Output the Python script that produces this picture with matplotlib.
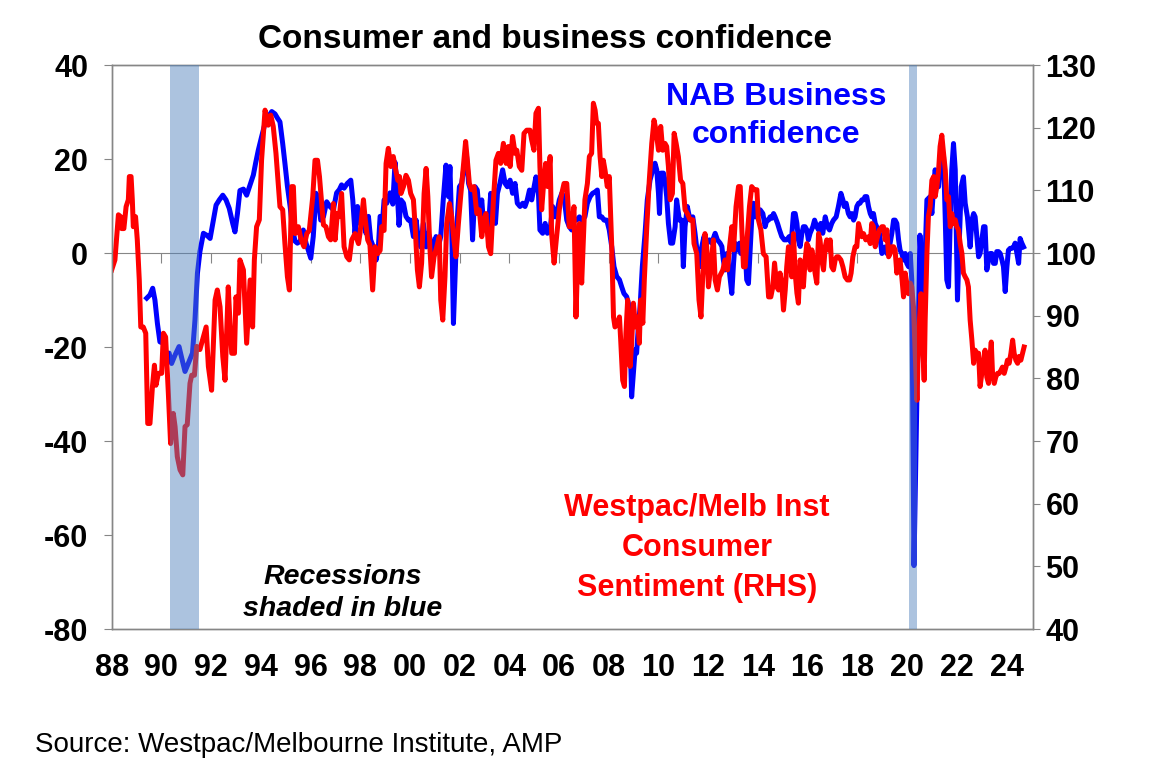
import matplotlib
matplotlib.use("Agg")
import matplotlib.pyplot as plt

plt.rcParams['font.family'] = ['Liberation Sans', 'DejaVu Sans']
plt.rcParams['axes.unicode_minus'] = False

# Westpac/Melbourne Institute consumer sentiment index (RHS)
wbc_year = [
    1988.00, 1988.13, 1988.27, 1988.36, 1988.40, 1988.49, 1988.58, 1988.67, 1988.71, 1988.78,
    1988.83, 1988.87, 1988.96, 1989.03, 1989.11, 1989.17, 1989.27, 1989.37, 1989.45, 1989.54,
    1989.64, 1989.72, 1989.78, 1989.88, 1990.01, 1990.08, 1990.17, 1990.28, 1990.37, 1990.48,
    1990.55, 1990.64, 1990.75, 1990.86, 1990.95, 1991.04, 1991.15, 1991.22, 1991.33, 1991.42,
    1991.55, 1991.62, 1991.80, 1991.89, 1992.02, 1992.16, 1992.25, 1992.36, 1992.47, 1992.56,
    1992.69, 1992.76, 1992.83, 1992.94, 1993.00, 1993.10, 1993.16, 1993.30, 1993.43, 1993.57,
    1993.67, 1993.74, 1993.83, 1993.94, 1994.03, 1994.17, 1994.30, 1994.40, 1994.50, 1994.61,
    1994.77, 1994.88, 1994.97, 1995.07, 1995.15, 1995.24, 1995.31, 1995.38, 1995.51, 1995.62,
    1995.74, 1995.85, 1995.95, 1996.09, 1996.18, 1996.28, 1996.36, 1996.45, 1996.52, 1996.62,
    1996.72, 1996.81, 1996.92, 1996.99, 1997.08, 1997.16, 1997.25, 1997.35, 1997.46, 1997.56,
    1997.66, 1997.79, 1997.93, 1997.99, 1998.13, 1998.19, 1998.30, 1998.39, 1998.50, 1998.60,
    1998.70, 1998.80, 1998.86, 1998.96, 1999.04, 1999.13, 1999.23, 1999.33, 1999.43, 1999.51,
    1999.58, 1999.64, 1999.74, 1999.84, 1999.94, 2000.03, 2000.14, 2000.21, 2000.30, 2000.38,
    2000.47, 2000.57, 2000.65, 2000.72, 2000.80, 2000.87, 2000.97, 2001.08, 2001.18, 2001.24,
    2001.32, 2001.41, 2001.48, 2001.59, 2001.68, 2001.77, 2001.85, 2001.95, 2002.04, 2002.15,
    2002.24, 2002.31, 2002.39, 2002.48, 2002.58, 2002.69, 2002.79, 2002.89, 2002.98, 2003.06,
    2003.16, 2003.25, 2003.36, 2003.46, 2003.56, 2003.65, 2003.76, 2003.87, 2003.96, 2004.03,
    2004.13, 2004.23, 2004.30, 2004.40, 2004.50, 2004.59, 2004.70, 2004.83, 2004.90, 2004.99,
    2005.07, 2005.17, 2005.23, 2005.30, 2005.37, 2005.46, 2005.54, 2005.64, 2005.70, 2005.80,
    2005.90, 2006.01, 2006.11, 2006.20, 2006.31, 2006.41, 2006.51, 2006.60, 2006.68, 2006.74,
    2006.82, 2006.91, 2006.98, 2007.04, 2007.14, 2007.22, 2007.31, 2007.38, 2007.45, 2007.51,
    2007.58, 2007.65, 2007.72, 2007.78, 2007.85, 2007.94, 2008.02, 2008.12, 2008.19, 2008.25,
    2008.35, 2008.43, 2008.48, 2008.56, 2008.63, 2008.69, 2008.76, 2008.86, 2008.92, 2008.99,
    2009.08, 2009.15, 2009.23, 2009.28, 2009.37, 2009.43, 2009.53, 2009.63, 2009.73, 2009.82,
    2009.90, 2010.00, 2010.09, 2010.17, 2010.26, 2010.33, 2010.40, 2010.47, 2010.56, 2010.63,
    2010.71, 2010.80, 2010.89, 2010.98, 2011.07, 2011.16, 2011.27, 2011.38, 2011.43, 2011.54,
    2011.63, 2011.71, 2011.78, 2011.87, 2011.94, 2012.01, 2012.10, 2012.21, 2012.28, 2012.37,
    2012.45, 2012.59, 2012.68, 2012.78, 2012.86, 2012.95, 2013.02, 2013.12, 2013.22, 2013.29,
    2013.35, 2013.42, 2013.49, 2013.58, 2013.66, 2013.75, 2013.85, 2013.96, 2014.02, 2014.12,
    2014.22, 2014.33, 2014.43, 2014.52, 2014.60, 2014.67, 2014.76, 2014.83, 2014.89, 2014.96,
    2015.03, 2015.10, 2015.16, 2015.23, 2015.30, 2015.36, 2015.43, 2015.50, 2015.57, 2015.63,
    2015.70, 2015.77, 2015.83, 2015.90, 2015.97, 2016.03, 2016.10, 2016.17, 2016.24, 2016.30,
    2016.37, 2016.44, 2016.50, 2016.57, 2016.64, 2016.71, 2016.77, 2016.84, 2016.91, 2016.97,
    2017.04, 2017.11, 2017.17, 2017.24, 2017.34, 2017.42, 2017.51, 2017.60, 2017.69, 2017.75,
    2017.82, 2017.91, 2017.98, 2018.05, 2018.11, 2018.18, 2018.25, 2018.34, 2018.45, 2018.52,
    2018.58, 2018.65, 2018.72, 2018.78, 2018.89, 2018.99, 2019.05, 2019.12, 2019.19, 2019.26,
    2019.32, 2019.39, 2019.46, 2019.52, 2019.59, 2019.66, 2019.72, 2019.79, 2019.86, 2019.93,
    2019.99, 2020.06, 2020.13, 2020.19, 2020.26, 2020.33, 2020.40, 2020.44, 2020.50, 2020.56,
    2020.62, 2020.69, 2020.73, 2020.80, 2020.86, 2020.93, 2021.00, 2021.07, 2021.13, 2021.20,
    2021.27, 2021.33, 2021.40, 2021.47, 2021.54, 2021.60, 2021.67, 2021.74, 2021.80, 2021.87,
    2021.94, 2022.00, 2022.07, 2022.14, 2022.21, 2022.27, 2022.34, 2022.41, 2022.47, 2022.54,
    2022.61, 2022.68, 2022.74, 2022.81, 2022.88, 2022.94, 2023.01, 2023.08, 2023.14, 2023.21,
    2023.28, 2023.35, 2023.39, 2023.44, 2023.51, 2023.57, 2023.64, 2023.71, 2023.78, 2023.84,
    2023.91, 2023.98, 2024.04, 2024.11, 2024.18, 2024.25, 2024.31, 2024.38, 2024.45, 2024.51,
    2024.58, 2024.65, 2024.71,
]
wbc_index = [
    97.3, 98.9, 106.1, 105.8, 103.9, 103.9, 107.4, 108.5, 112.2, 112.2,
    108.5, 104.2, 105.8, 102.1, 95.7, 88.2, 88.2, 87.2, 72.8, 72.8,
    78.7, 82.1, 78.9, 80.8, 80.8, 87.2, 86.6, 77.6, 69.6, 74.4,
    72.3, 67.5, 65.4, 64.6, 72.3, 72.6, 79.2, 80.5, 80.5, 85.1,
    84.6, 85.6, 88.2, 81.9, 78.1, 92.5, 94.1, 91.4, 83.5, 79.7,
    94.6, 88.8, 84.0, 84.0, 93.0, 90.4, 98.9, 97.3, 85.6, 95.7,
    88.2, 98.9, 104.2, 105.3, 114.8, 122.8, 120.4, 122.0, 120.2, 115.9,
    107.4, 106.9, 101.5, 96.2, 94.1, 110.6, 110.6, 103.1, 104.2, 102.1,
    101.0, 103.1, 103.6, 109.0, 114.8, 114.8, 112.2, 107.9, 104.5, 104.2,
    102.6, 102.1, 107.9, 102.1, 106.3, 105.8, 109.5, 101.0, 99.4, 98.9,
    102.1, 103.1, 101.5, 103.1, 108.5, 105.8, 102.1, 101.3, 94.1, 101.0,
    99.9, 100.4, 104.2, 103.6, 114.3, 116.7, 113.8, 115.4, 113.2, 111.6,
    112.2, 109.5, 110.6, 112.4, 111.6, 109.5, 108.5, 104.2, 97.3, 94.6,
    98.4, 109.5, 113.5, 109.0, 101.0, 96.2, 99.4, 101.0, 102.6, 92.5,
    89.3, 96.2, 104.7, 107.9, 105.8, 102.1, 99.4, 104.7, 109.0, 113.8,
    117.8, 114.8, 111.1, 110.1, 110.6, 106.3, 106.9, 102.6, 105.3, 106.3,
    101.0, 99.9, 108.5, 114.8, 115.9, 114.3, 117.5, 114.3, 117.0, 113.8,
    118.6, 115.9, 116.4, 113.8, 113.2, 119.1, 119.6, 119.6, 118.0, 116.4,
    122.3, 123.1, 113.8, 106.9, 110.6, 114.3, 110.6, 115.4, 103.1, 98.4,
    102.6, 106.9, 109.5, 111.1, 111.1, 104.2, 104.2, 107.4, 89.8, 97.8,
    104.7, 95.2, 102.6, 108.5, 111.1, 115.4, 115.9, 123.9, 122.8, 120.7,
    120.7, 115.4, 112.2, 114.8, 113.2, 110.6, 112.2, 101.0, 89.8, 88.2,
    88.8, 89.8, 86.1, 79.7, 78.7, 87.2, 92.5, 81.9, 85.6, 92.0,
    88.2, 89.8, 85.6, 92.5, 88.8, 95.7, 104.2, 111.6, 117.5, 121.2,
    119.6, 116.4, 120.2, 116.4, 117.5, 117.0, 113.8, 108.5, 109.5, 119.1,
    117.5, 115.4, 111.6, 111.1, 106.9, 106.3, 105.3, 105.3, 101.5, 99.9,
    92.5, 89.8, 96.2, 103.1, 101.0, 94.6, 97.8, 102.1, 95.7, 94.1,
    96.2, 97.3, 98.9, 97.3, 101.0, 104.2, 100.5, 107.4, 110.6, 110.6,
    104.2, 97.8, 97.8, 103.1, 107.4, 110.6, 110.1, 110.1, 105.3, 103.7,
    99.9, 99.4, 93.0, 93.0, 94.6, 98.4, 94.6, 94.1, 96.8, 95.2,
    90.9, 94.1, 97.8, 101.0, 99.4, 96.2, 103.1, 96.8, 93.6, 92.0,
    98.9, 96.8, 94.6, 98.9, 101.5, 101.0, 97.3, 100.5, 98.9, 96.8,
    95.2, 103.1, 102.1, 98.9, 97.3, 101.0, 102.1, 100.5, 102.1, 97.8,
    97.3, 98.9, 99.4, 99.4, 98.9, 97.8, 96.2, 95.7, 95.7, 96.8,
    99.4, 101.0, 101.0, 104.7, 103.7, 102.6, 103.1, 102.1, 102.6, 101.5,
    104.7, 104.2, 101.0, 102.1, 103.7, 104.2, 104.2, 102.1, 103.7, 99.4,
    99.9, 101.0, 101.0, 100.5, 96.8, 98.4, 98.9, 96.2, 93.0, 96.8,
    95.2, 93.5, 95.2, 94.6, 91.4, 84.0, 76.5, 82.9, 89.3, 93.5,
    86.6, 79.7, 89.3, 99.9, 105.8, 107.4, 111.6, 112.2, 109.0, 110.6,
    113.2, 117.0, 118.8, 115.9, 113.2, 108.5, 109.0, 104.2, 106.3, 104.7,
    105.3, 104.2, 103.7, 101.5, 99.9, 96.8, 96.2, 95.7, 94.6, 89.3,
    86.1, 82.4, 84.5, 84.0, 84.0, 78.7, 80.8, 82.9, 84.5, 80.2,
    79.2, 84.0, 85.8, 80.8, 79.2, 80.2, 80.8, 80.8, 81.3, 81.8,
    80.8, 81.8, 82.9, 82.4, 84.0, 86.1, 84.0, 82.9, 82.4, 83.5,
    82.9, 84.0, 85.0,
]

# NAB business confidence (LHS)
nab_year = [
    1989.41, 1989.54, 1989.65, 1989.74, 1989.84, 1989.94, 1990.08, 1990.19, 1990.31, 1990.41,
    1990.55, 1990.71, 1990.82, 1990.95, 1991.08, 1991.25, 1991.35, 1991.45, 1991.55, 1991.69,
    1991.82, 1991.96, 1992.09, 1992.20, 1992.33, 1992.47, 1992.60, 1992.73, 1992.87, 1992.96,
    1993.06, 1993.16, 1993.30, 1993.43, 1993.57, 1993.70, 1993.79, 1993.90, 1994.03, 1994.17,
    1994.30, 1994.44, 1994.57, 1994.67, 1994.77, 1994.88, 1994.97, 1995.07, 1995.18, 1995.28,
    1995.38, 1995.47, 1995.58, 1995.71, 1995.82, 1995.91, 1996.01, 1996.11, 1996.22, 1996.32,
    1996.41, 1996.52, 1996.65, 1996.78, 1996.92, 1997.05, 1997.16, 1997.25, 1997.35, 1997.48,
    1997.62, 1997.70, 1997.79, 1997.89, 1997.99, 1998.13, 1998.23, 1998.33, 1998.42, 1998.53,
    1998.64, 1998.73, 1998.80, 1998.90, 1998.96, 1999.07, 1999.20, 1999.31, 1999.40, 1999.47,
    1999.56, 1999.64, 1999.74, 1999.84, 1999.94, 2000.03, 2000.14, 2000.25, 2000.34, 2000.43,
    2000.54, 2000.65, 2000.74, 2000.83, 2000.94, 2001.05, 2001.14, 2001.24, 2001.34, 2001.45,
    2001.55, 2001.61, 2001.68, 2001.75, 2001.85, 2001.91, 2001.99, 2002.08, 2002.18, 2002.28,
    2002.36, 2002.44, 2002.52, 2002.62, 2002.71, 2002.79, 2002.89, 2002.95, 2003.06, 2003.16,
    2003.25, 2003.36, 2003.44, 2003.52, 2003.62, 2003.73, 2003.83, 2003.92, 2004.03, 2004.13,
    2004.23, 2004.32, 2004.43, 2004.54, 2004.63, 2004.72, 2004.81, 2004.90, 2004.97, 2005.07,
    2005.17, 2005.23, 2005.34, 2005.44, 2005.53, 2005.64, 2005.74, 2005.84, 2005.93, 2006.01,
    2006.11, 2006.20, 2006.31, 2006.41, 2006.51, 2006.60, 2006.71, 2006.82, 2006.91, 2007.04,
    2007.14, 2007.25, 2007.35, 2007.45, 2007.54, 2007.62, 2007.72, 2007.81, 2007.92, 2008.02,
    2008.12, 2008.21, 2008.32, 2008.43, 2008.52, 2008.61, 2008.72, 2008.79, 2008.86, 2008.92,
    2008.99, 2009.06, 2009.12, 2009.19, 2009.26, 2009.35, 2009.46, 2009.55, 2009.66, 2009.77,
    2009.86, 2009.93, 2010.00, 2010.04, 2010.10, 2010.20, 2010.26, 2010.33, 2010.40, 2010.49,
    2010.57, 2010.67, 2010.73, 2010.84, 2010.94, 2011.00, 2011.07, 2011.16, 2011.27, 2011.38,
    2011.47, 2011.57, 2011.67, 2011.74, 2011.83, 2011.94, 2012.05, 2012.14, 2012.28, 2012.37,
    2012.48, 2012.55, 2012.61, 2012.68, 2012.75, 2012.86, 2012.95, 2013.02, 2013.08, 2013.18,
    2013.26, 2013.31, 2013.39, 2013.49, 2013.55, 2013.62, 2013.69, 2013.75, 2013.82, 2013.89,
    2013.98, 2014.09, 2014.20, 2014.29, 2014.36, 2014.43, 2014.49, 2014.56, 2014.63, 2014.69,
    2014.79, 2014.87, 2014.96, 2015.06, 2015.16, 2015.26, 2015.34, 2015.43, 2015.50, 2015.57,
    2015.63, 2015.70, 2015.77, 2015.83, 2015.90, 2015.97, 2016.03, 2016.10, 2016.21, 2016.28,
    2016.37, 2016.44, 2016.53, 2016.61, 2016.71, 2016.80, 2016.88, 2016.97, 2017.04, 2017.15,
    2017.24, 2017.34, 2017.42, 2017.47, 2017.55, 2017.64, 2017.71, 2017.78, 2017.85, 2017.91,
    2017.98, 2018.05, 2018.11, 2018.18, 2018.25, 2018.31, 2018.38, 2018.45, 2018.52, 2018.58,
    2018.65, 2018.72, 2018.78, 2018.89, 2018.99, 2019.05, 2019.12, 2019.19, 2019.26, 2019.32,
    2019.39, 2019.46, 2019.52, 2019.59, 2019.66, 2019.72, 2019.79, 2019.86, 2019.93, 2019.99,
    2020.06, 2020.13, 2020.19, 2020.28, 2020.40, 2020.52, 2020.63, 2020.73, 2020.80, 2020.93,
    2021.00, 2021.07, 2021.13, 2021.20, 2021.27, 2021.33, 2021.40, 2021.47, 2021.54, 2021.60,
    2021.67, 2021.74, 2021.80, 2021.87, 2021.94, 2022.03, 2022.11, 2022.18, 2022.27, 2022.34,
    2022.43, 2022.54, 2022.61, 2022.68, 2022.74, 2022.81, 2022.88, 2022.94, 2023.01, 2023.08,
    2023.14, 2023.21, 2023.28, 2023.35, 2023.41, 2023.48, 2023.55, 2023.61, 2023.68, 2023.75,
    2023.82, 2023.88, 2023.95, 2024.02, 2024.08, 2024.15, 2024.22, 2024.29, 2024.35, 2024.42,
    2024.49, 2024.55, 2024.62, 2024.69,
]
nab_conf = [
    -9.6, -8.9, -7.5, -10.0, -15.0, -18.9, -19.2, -21.3, -21.3, -23.5,
    -21.7, -19.9, -22.4, -25.2, -23.5, -21.3, -14.3, -4.3, 0.3, 4.2,
    3.8, 3.1, 7.0, 10.2, 11.3, 12.3, 11.3, 9.5, 6.3, 4.5,
    8.4, 13.3, 13.6, 12.3, 14.5, 16.6, 19.1, 21.9, 24.7, 27.6,
    29.0, 30.1, 29.6, 28.7, 27.9, 23.3, 19.1, 14.2, 9.9, 4.9,
    2.5, 2.1, 2.5, 4.9, 2.1, 0.6, -1.1, 3.5, 12.7, 11.3,
    7.0, 7.7, 10.9, 9.9, 9.2, 12.8, 13.5, 14.5, 13.8, 14.8,
    15.5, 11.3, 4.2, 9.9, 6.3, 7.8, 4.2, 7.8, 2.8, 1.3,
    -1.5, 1.3, 7.8, 7.0, 11.3, 10.6, 12.8, 10.4, 19.3, 14.9,
    5.9, 11.3, 10.6, 7.8, 7.0, 7.0, 3.5, 7.0, 2.8, 1.3,
    6.3, 1.3, 4.2, 2.8, 0.6, 3.5, 1.3, 3.5, 11.3, 18.7,
    12.0, 18.4, 5.6, -15.0, 0.0, 7.7, 14.1, 14.8, 18.4, 20.5,
    14.8, 13.4, 2.8, 14.1, 13.4, 8.4, 11.3, 7.0, 7.0, 5.6,
    12.7, 9.9, 6.3, 12.7, 14.8, 17.7, 14.8, 14.1, 15.5, 12.7,
    14.8, 10.6, 9.9, 10.6, 9.9, 11.3, 13.4, 11.3, 13.4, 16.2,
    12.7, 4.9, 4.2, 6.3, 4.2, 4.9, 9.9, 7.7, 9.1, 11.3,
    12.7, 12.0, 7.0, 5.6, 4.9, 7.0, 7.0, 7.7, 7.0, 7.7,
    10.6, 12.0, 12.7, 13.0, 13.4, 7.7, 7.7, 7.0, 7.0, 4.9,
    1.3, -2.9, -5.0, -5.7, -7.2, -8.6, -9.3, -10.7, -18.5, -30.6,
    -25.6, -20.6, -21.3, -15.7, -11.4, -2.9, 4.2, 11.3, 15.5, 17.7,
    19.1, 17.7, 12.7, 8.4, 17.0, 17.0, 15.5, 12.0, 6.3, 2.1,
    2.1, 5.6, 11.3, 7.0, 7.0, -2.9, 5.6, 9.9, 7.0, 7.7,
    4.2, -0.4, -2.9, 1.3, 3.5, 2.1, 2.8, 2.1, 4.2, 2.8,
    2.1, 1.4, -1.5, -3.6, -0.1, -4.3, -8.6, -2.2, 2.1, 0.6,
    2.1, -0.1, 0.6, 0.6, -5.7, -6.5, 0.6, 7.0, 10.6, 7.7,
    7.7, 9.2, 8.4, 5.6, 7.0, 7.0, 7.7, 7.4, 8.4, 7.7,
    6.3, 4.9, 3.5, 2.8, 2.8, 3.5, 2.1, 8.4, 8.4, 6.3,
    2.8, 1.4, 4.2, 5.6, 5.6, 4.9, 2.8, 4.2, 5.6, 7.0,
    5.6, 4.9, 6.3, 4.2, 7.7, 5.6, 4.9, 6.3, 7.0, 7.7,
    9.9, 12.7, 11.3, 9.9, 10.6, 8.4, 7.7, 8.4, 7.0, 7.7,
    9.9, 10.6, 10.6, 11.3, 11.3, 12.0, 12.0, 9.9, 8.4, 7.7,
    8.4, 6.3, 5.6, 4.2, -0.1, 0.6, 1.3, -0.1, 1.3, 2.1,
    4.2, 7.0, 7.0, 6.3, 2.8, 0.6, -0.1, -1.5, -0.1, -2.2,
    -2.9, -0.1, -5.7, -66.5, -30.0, 3.8, -8.6, -0.1, 11.3, 12.0,
    8.4, 14.1, 17.7, 16.2, 14.1, 18.4, 17.0, 20.5, 7.0, -5.7,
    -7.2, 7.0, 17.7, 23.3, 17.7, -10.0, 3.5, 14.1, 16.2, 10.6,
    7.7, 1.3, 7.0, 8.4, 7.7, 3.5, -0.8, -0.1, 2.8, 5.6,
    5.6, -3.6, -1.5, -0.1, -0.1, -2.2, -2.2, 0.3, 0.3, -0.1,
    -1.5, -2.9, -8.2, -2.9, 0.6, 1.0, 1.0, 1.3, 2.1, -0.1,
    -2.2, 3.1, 2.1, 1.3,
]

recessions = [(1990.34, 1991.51), (2020.09, 2020.42)]

x_ticks = list(range(1988, 2025, 2))
x_labels = [f"{y % 100:02d}" for y in x_ticks]
left_ticks = list(range(-80, 41, 20))
right_ticks = list(range(40, 131, 10))

grey = '#868686'

fig = plt.figure(figsize=(11.55, 7.74), dpi=100)
ax = fig.add_axes([0.0967, 0.1873, 0.7977, 0.7287])
ax2 = ax.twinx()

ax.plot(nab_year, nab_conf, color='#0000FF', lw=3.6, solid_joinstyle='round', zorder=2)
ax2.plot(wbc_year, wbc_index, color='#FF0000', lw=3.6, solid_joinstyle='round', zorder=2)
for start, end in recessions:
    ax2.axvspan(start, end, color='#4F81BD', alpha=0.47, lw=0, zorder=5)

ax.set_xlim(1988, 2025.07)
ax.set_ylim(-80, 40)
ax2.set_ylim(40, 130)
ax.set_yticks(left_ticks)
ax2.set_yticks(right_ticks)
ax.set_xticks(x_ticks)
ax.set_xticklabels(x_labels)

for a in (ax, ax2):
    for s in a.spines.values():
        s.set_color(grey)
        s.set_linewidth(1.0)

ax.tick_params(axis='x', length=0, pad=17, labelsize=22)
ax.tick_params(axis='y', direction='out', length=6, color=grey, pad=11, labelsize=22)
ax2.tick_params(axis='y', direction='out', length=5, color=grey, pad=4, labelsize=22)
for lab in ax.get_xticklabels() + ax.get_yticklabels() + ax2.get_yticklabels():
    lab.set_fontweight('bold')

# x axis crosses at zero: tick marks hang from the zero line
zero_frac = (0 - (-80)) / (40 - (-80))
secax = ax.secondary_xaxis(zero_frac)
secax.set_xticks(x_ticks)
secax.tick_params(direction='in', length=7, color=grey, labeltop=False, labelbottom=False)
for s in secax.spines.values():
    s.set_color(grey)

fig.text(0.472, 0.949, 'Consumer and business confidence', ha='center', va='center',
         fontsize=24, fontweight='bold')
fig.text(0.672, 0.850, 'NAB Business\nconfidence', ha='center', va='center',
         fontsize=23, fontweight='bold', color='#0000FF', linespacing=1.32)
fig.text(0.6035, 0.292, 'Westpac/Melb Inst\nConsumer\nSentiment (RHS)', ha='center',
         va='center', fontsize=22, fontweight='bold', color='#FF0000', linespacing=1.42)
fig.text(0.297, 0.234, 'Recessions\nshaded in blue', ha='center', va='center',
         fontsize=20.5, fontweight='bold', style='italic', linespacing=1.32)
fig.text(0.030, 0.037, 'Source: Westpac/Melbourne Institute, AMP', ha='left', va='center',
         fontsize=20)

fig.savefig('out.png', dpi=100)
